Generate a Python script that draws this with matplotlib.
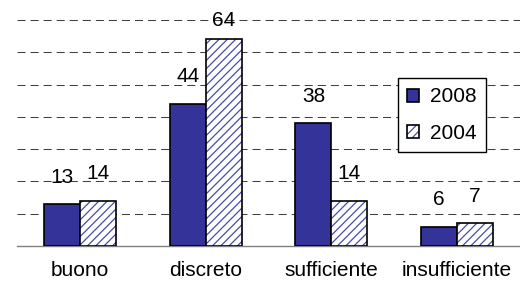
import matplotlib as mpl
mpl.use('Agg')
import matplotlib.pyplot as plt
from matplotlib.legend_handler import HandlerTuple
import numpy as np

categories = ['buono', 'discreto', 'sufficiente', 'insufficiente']
years = ['2008', '2004']
vals_2008 = [13, 44, 38, 6]
vals_2004 = [14, 64, 14, 7]

plt.rcParams['font.family'] = ['Liberation Sans', 'DejaVu Sans']
plt.rcParams['hatch.linewidth'] = 0.9
plt.rcParams['lines.scale_dashes'] = False

blue = '#333399'
fs = 15
fig = plt.figure(figsize=(5.2, 2.82), dpi=100)
ax = fig.add_axes([17/520, 36/282, 503/520, 232.5/282])

x = np.arange(len(categories))
w = 0.286

b1 = ax.bar(x - w/2, vals_2008, w, color=blue, edgecolor='black', linewidth=1.2, zorder=3)
b2h = ax.bar(x + w/2, vals_2004, w, color='white', edgecolor='#4a4aa8', hatch='////', linewidth=0, zorder=3)
b2e = ax.bar(x + w/2, vals_2004, w, color='none', edgecolor='black', linewidth=1.2, zorder=4)

for xs, vs in [(x - w/2, vals_2008), (x + w/2, vals_2004)]:
	for xi, v in zip(xs, vs):
		ax.text(xi, min(v + 5.4, 67), str(v), ha='center', va='bottom', fontsize=fs)

ax.set_xlim(-0.5, 3.5)
ax.set_ylim(0, 72)
ax.set_yticks([10, 20, 30, 40, 50, 60, 70])
ax.yaxis.grid(True, color='#404040', linewidth=0.75, linestyle=(0, (5.8, 3.6)))
ax.set_axisbelow(True)
ax.tick_params(axis='y', left=False, labelleft=False)
ax.set_xticks(x)
ax.set_xticklabels(categories, fontsize=fs)
ax.tick_params(axis='x', length=0, pad=11)
for s in ['top', 'right', 'left']:
	ax.spines[s].set_visible(False)
ax.spines['bottom'].set_color('#808080')
ax.spines['bottom'].set_linewidth(1)

leg = ax.legend([b1[0], (b2h[0], b2e[0])], years, fontsize=fs,
	handler_map={tuple: HandlerTuple(ndivide=1, pad=0)},
	loc='upper left', bbox_to_anchor=(398/520, 1 - 78/282), bbox_transform=fig.transFigure,
	borderaxespad=0, fancybox=False, framealpha=1, edgecolor='black',
	handlelength=0.58, handleheight=0.58, handletextpad=0.5, labelspacing=0.85, borderpad=0.45)
leg.get_frame().set_linewidth(1)

plt.savefig('out.png', dpi=100)
